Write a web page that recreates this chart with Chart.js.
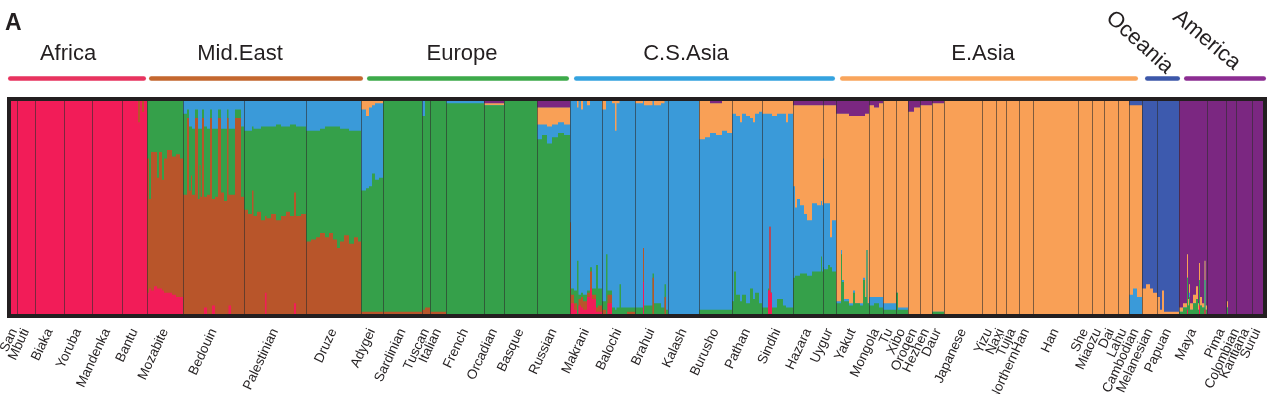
<!DOCTYPE html>
<html><head><meta charset="utf-8">
<script src="https://cdn.jsdelivr.net/npm/chart.js@4.4.1/dist/chart.umd.min.js"></script>
<style>html,body{margin:0;padding:0;background:#fff;overflow:hidden}#wrap{width:1273px;height:394px;position:relative}</style>
</head><body><div id="wrap"><canvas id="c" width="1273" height="394"></canvas></div>
<script>
// ---- populations (sample-position axis, 0 .. sampleEnd) ----
const populations = ['San','Mbuti','Biaka','Yoruba','Mandenka','Bantu','Mozabite','Bedouin','Palestinian','Druze',
 'Adygei','Sardinian','Tuscan','Italian','French','Orcadian','Basque','Russian',
 'Makrani','Balochi','Brahui','Kalash','Burusho','Pathan','Sindhi','Hazara','Uygur',
 'Yakut','Mongola','Tu','Xibo','Oroqen','Hezhen','Daur','Japanese','Yizu','Naxi','Tujia','NorthernHan','Han','She','Miaozu','Dai','Lahu','Cambodian',
 'Melanesian','Papuan','Maya','Pima','Colombian','Karitiana','Surui'];
const popBounds = [0,6,24,53,81,111,136,172,233,295,350,372,411,419,435,473,493,526,559,591,624,657,688,721,751,782,812,825,
 858,872,885,897,909,921,933,971,985,995,1008,1022,1067,1081,1093,1107,1118,1131,1146,1168,1196,1215,1225,1241,1252];
const labelNudge = {Pima: 5, Colombian: 5, Karitiana: 2};

// ---- regions ----
const regionNames = ['Africa','Mid.East','Europe','C.S.Asia','E.Asia','Oceania','America'];
const regionLabelPos = [57,229,451,675,972,1098,1164.6];
const regionLabelAngle = [0,0,0,0,0,42,40];
const regionLineFrom = [-3,138,356,563,829,1134,1173];
const regionLineTo = [135,352,558,824,1127,1169,1255];
const regionColors = ['#E8335F','#C4672F','#3DAA4A','#35A3DF','#F9A55C','#3C57A9','#8C2D92'];

// ---- ancestry components ----
const componentNames = ['Africa','Mid.East','Europe','C.S.Asia','E.Asia','Oceania','America'];
const componentColors = ['#F21C58','#B8552A','#35A04A','#3A9AD9','#F9A056','#3D5AAE','#7B2781'];

const sampleEnd = 1252;
const segStart = [
 0,127,129,131,133,
 136,138,140,143,146,148,151,153,156,161,165,169,
 172,176,178,180,181,184,187,188.5,189.5,191,193,196,199,201,204,207,210,213,216,217.5,220,224,230,
 233,237,241,242.5,246,250,254,255.5,260,265,270,275,279,283,285,290,
 295,300,305,309,314,318,322,326,329,333,338,343,347,
 350,355,358,361,364,368,372,411,414,419,435,473,493,526,531,536,541,547,553,
 559,560,563,566,567.5,570,572,576,579,581,585,587,
 591,595,596.5,601,604,605.5,608.5,610,616,
 624,632,633,641.5,643,650,653.5,655,657,
 688,694,699,705,711,716,
 721,723,725,729,731,735,739,742,744,748,
 751,757,758.5,759.5,761,766,772,775,777,
 782,784,786,789,793,796,801,806,810,811,
 812,813,817,819,821,
 825,830,831,833,838,842,844,849,852,854,855.5,856.5,
 858,863,868,872,885,887,897,903,909,921,933,
 1118,1122,1126,
 1131,1135,1139,1142,1146,1149,1151,1153,
 1168,1172,1176,1177,1178,1179,1182,1185,1187,1188,1189,1191,1193.5,1194.5,
 1196,1216,1217
];
const africa = [
 1,.9,1,.95,1,
 .10,.12,.11,.13,.12,.12,.11,.10,.10,.09,.08,.08,
 0,0,0,0,0,0,0,0,0,0,.03,0,0,.04,0,0,0,0,0,.04,0,0,0,
 0,0,0,0,0,0,.10,0,0,0,0,0,0,.05,0,0,
 0,0,0,0,0,0,0,0,0,0,0,0,0,
 0,0,0,0,0,0,0,0,0,0,0,0,0,0,0,0,0,0,0,
 .03,.05,.02,0,.04,.03,.02,.08,.12,.07,.01,.01,
 0,0,.05,0,0,0,0,0,0,
 0,.15,0,0,0,0,0,0,0,
 0,0,0,0,0,0,
 0,0,0,0,0,0,0,0,0,0,
 0,.11,.41,.10,0,0,0,0,0,
 0,0,0,0,0,0,0,0,0,0,
 0,0,0,0,0,
 0,0,0,0,0,0,0,0,0,0,0,0,
 0,0,0,0,0,0,0,0,0,0,0,
 0,0,0,
 0,0,0,0,0,0,0,0,
 0,0,.02,0,0,0,0,0,0,.04,0,0,.02,0,
 0,0,0
];
const midEast = [
 0,.1,0,.05,0,
 .63,.42,.65,.63,.52,.64,.52,.63,.67,.65,.67,.65,
 .56,.92,.58,.65,.56,.92,.54,.70,.55,.92,.52,.56,.92,.50,.55,.92,.57,.53,.92,.52,.56,.92,.55,
 .49,.47,.58,.46,.48,.44,.36,.45,.47,.44,.46,.48,.46,.52,.46,.47,
 .34,.35,.36,.38,.36,.38,.35,.31,.34,.37,.33,.36,.34,
 .01,.01,.01,.01,.01,.01,.01,.02,.03,.01,0,0,0,0,0,0,0,0,0,
 .40,.04,.03,0,.03,.05,.04,.02,.08,.02,.02,.03,
 .02,0,.04,0,0,0,0,0,.01,
 0,.16,0,.17,0,0,.08,0,0,
 0,0,0,0,0,0,
 0,0,0,0,0,0,0,0,0,0,
 0,0,0,0,0,0,0,0,0,
 0,0,0,0,0,0,0,0,0,0,
 0,0,0,0,0,
 0,0,0,0,0,0,0,0,0,0,0,0,
 0,0,0,0,0,0,0,0,0,0,0,
 0,0,0,
 0,0,0,0,0,0,0,0,
 0,0,0,0,0,0,0,0,0,0,0,0,0,0,
 0,0,0
];
const europe = [
 0,0,0,0,0,
 .27,.46,.24,.24,.36,.24,.37,.27,.23,.26,.25,.27,
 .38,.04,.30,.23,.31,.04,.33,.17,.32,.04,.33,.31,.04,.33,.32,.04,.30,.34,.04,.31,.31,.04,.33,
 .37,.39,.30,.41,.39,.44,.42,.43,.41,.45,.42,.40,.43,.32,.42,.41,
 .52,.51,.50,.49,.52,.50,.53,.57,.53,.50,.53,.50,.52,
 .57,.58,.59,.65,.62,.63,.99,.91,.97,.99,.99,.98,1,.82,.84,.80,.83,.85,.84,
 0,.03,.06,.25,.02,.02,.03,.01,.02,.03,.20,.08,
 .04,.28,.02,.03,.02,.03,.14,.03,.02,
 .03,0,.04,.02,.05,.03,.06,.02,0,
 .02,.02,.02,.02,.02,.02,
 .06,.20,.09,.06,.09,.05,.12,.07,.10,.05,
 .03,.01,0,0,.03,.07,.04,.03,.03,
 .17,.18,.18,.19,.19,.18,.20,.20,.27,.20,
 .22,.21,.23,.22,.20,
 .05,.28,.15,.06,.04,.10,.05,.04,.16,.08,.30,.05,
 .04,.05,.03,.02,.10,.02,0,0,0,.01,0,
 0,0,0,
 0,0,0,0,0,0,0,0,
 .01,.03,.15,.04,.08,.02,.05,.07,.02,.12,.04,.03,.14,.02,
 0,.03,0
];
const csAsia = [
 0,0,0,0,0,
 0,0,0,0,0,0,0,0,0,0,0,0,
 .06,.04,.12,.12,.13,.04,.13,.13,.13,.04,.12,.13,.04,.13,.13,.04,.13,.13,.04,.13,.13,.04,.12,
 .14,.14,.12,.13,.13,.12,.12,.12,.12,.11,.12,.12,.11,.11,.12,.12,
 .14,.14,.14,.13,.12,.12,.12,.12,.13,.13,.14,.14,.14,
 .38,.34,.37,.32,.36,.35,0,.07,0,0,.01,0,0,.07,.05,.08,.06,.05,.05,
 .57,.88,.89,.72,.91,.86,.91,.87,.78,.88,.77,.88,
 .90,.72,.89,.96,.84,.96,.86,.97,.97,
 .96,.69,.94,.81,.93,.96,.86,.98,1,
 .80,.81,.83,.82,.84,.83,
 .88,.74,.84,.84,.85,.88,.80,.83,.84,.90,
 .91,.82,.53,.84,.90,.87,.90,.87,.91,
 .43,.32,.36,.32,.28,.26,.32,.31,.26,.31,
 .51,.31,.29,.14,.24,
 .01,.02,.01,.01,.01,.01,0,.01,.01,0,0,0,
 .04,.03,.05,.03,0,.01,0,0,0,0,0,
 .09,.12,.08,
 0,0,0,0,0,0,0,0,
 0,0,0,0,.02,0,0,0,0,0,0,0,0,0,
 0,0,0
];
const eAsia = [
 0,0,0,0,0,
 0,0,0,0,0,0,0,0,0,0,0,0,
 0,0,0,0,0,0,0,0,0,0,0,0,0,0,0,0,0,0,0,0,0,0,0,
 0,0,0,0,0,0,0,0,0,0,0,0,0,0,0,0,
 0,0,0,0,0,0,0,0,0,0,0,0,0,
 .04,.07,.03,.02,.01,.01,0,0,0,0,0,.01,0,.08,.08,.09,.08,.07,.08,
 0,0,0,.03,0,.04,0,.02,0,0,0,0,
 .04,0,0,.01,.14,.01,0,0,0,
 .01,0,.02,0,.02,.01,0,0,0,
 .18,.17,.14,.15,.14,.15,
 .06,.06,.07,.10,.06,.07,.08,.10,.06,.05,
 .06,.06,.06,.06,.07,.06,.06,.10,.06,
 .38,.48,.44,.47,.51,.54,.46,.47,.45,.47,
 .25,.46,.46,.62,.54,
 .88,.64,.78,.87,.88,.82,.88,.88,.76,.86,.64,.89,
 .90,.89,.91,.95,.90,.97,.95,.97,.98,.98,1,
 .89,.86,.90,
 .12,.14,.12,.10,.08,.02,.11,.01,
 .02,.02,.11,.03,.04,.03,.04,.06,.03,.08,.04,.02,.09,.02,
 0,.03,0
];
const oceania = [
 0,0,0,0,0,
 0,0,0,0,0,0,0,0,0,0,0,0,
 0,0,0,0,0,0,0,0,0,0,0,0,0,0,0,0,0,0,0,0,0,0,0,
 0,0,0,0,0,0,0,0,0,0,0,0,0,0,0,0,
 0,0,0,0,0,0,0,0,0,0,0,0,0,
 0,0,0,0,0,0,0,0,0,0,0,0,0,0,0,0,0,0,0,
 0,0,0,0,0,0,0,0,0,0,0,0,
 0,0,0,0,0,0,0,0,0,
 0,0,0,0,0,0,0,0,0,
 0,0,0,0,0,0,
 0,0,0,0,0,0,0,0,0,0,
 0,0,0,0,0,0,0,0,0,
 0,0,0,0,0,0,0,0,0,0,
 0,0,0,0,0,
 0,0,0,0,0,0,0,0,0,0,0,0,
 0,0,0,0,0,0,0,0,0,0,0,
 .02,.02,.02,
 .88,.86,.88,.90,.92,.98,.89,.99,
 0,0,0,0,0,0,0,0,0,0,0,0,0,0,
 0,0,0
];
const america = [
 0,0,0,0,0,
 0,0,0,0,0,0,0,0,0,0,0,0,
 0,0,0,0,0,0,0,0,0,0,0,0,0,0,0,0,0,0,0,0,0,0,0,
 0,0,0,0,0,0,0,0,0,0,0,0,0,0,0,0,
 0,0,0,0,0,0,0,0,0,0,0,0,0,
 0,0,0,0,0,0,0,0,0,0,0,.01,0,.03,.03,.03,.03,.03,.03,
 0,0,0,0,0,0,0,0,0,0,0,0,
 0,0,0,0,0,0,0,0,0,
 0,0,0,0,0,0,0,0,0,
 0,0,.01,.01,0,0,
 0,0,0,0,0,0,0,0,0,0,
 0,0,0,0,0,0,0,0,0,
 .02,.02,.02,.02,.02,.02,.02,.02,.02,.02,
 .02,.02,.02,.02,.02,
 .06,.06,.06,.06,.07,.07,.07,.07,.07,.06,.06,.06,
 .02,.03,.01,0,0,0,.05,.03,.02,.01,0,
 0,0,0,
 0,0,0,0,0,0,0,0,
 .97,.95,.72,.93,.86,.95,.91,.87,.95,.76,.92,.95,.75,.96,
 1,.94,1
];

// ---- build chart ----
const series = [africa, midEast, europe, csAsia, eAsia, oceania, america];
const popCenters = populations.map((p, i) => (popBounds[i] + popBounds[i + 1]) / 2 + (labelNudge[p] || 0));
const FONT = '"Liberation Sans", Arial, Helvetica, sans-serif';
const INK = '#231f20';

// cumulative tops: each component is filled from 0 up to its cumulative share;
// dataset 0 (lowest component) is drawn last, on top of the others.
const running = segStart.map(() => 0);
const datasets = componentNames.map((name, k) => {
  const vals = series[k];
  const pts = segStart.map((s, i) => { running[i] += vals[i]; return {x: s, y: running[i]}; });
  pts.push({x: sampleEnd, y: pts[pts.length - 1].y});
  return {label: name, data: pts, backgroundColor: componentColors[k], borderColor: componentColors[k],
    borderWidth: 0, pointRadius: 0, pointHoverRadius: 0, stepped: 'before', tension: 0, fill: 'origin'};
});

const decor = {
  id: 'decor',
  beforeDraw(chart) {
    const c = chart.ctx; c.save(); c.fillStyle = '#fff'; c.fillRect(0, 0, chart.width, chart.height); c.restore();
  },
  afterDatasetsDraw(chart) {
    const {ctx, chartArea: a} = chart; const x = chart.scales.x;
    ctx.save();
    ctx.strokeStyle = 'rgba(45,45,45,0.6)'; ctx.lineWidth = 1;
    for (let i = 1; i < popBounds.length - 1; i++) {
      const px = Math.round(x.getPixelForValue(popBounds[i])) + 0.5;
      ctx.beginPath(); ctx.moveTo(px, a.top); ctx.lineTo(px, a.bottom); ctx.stroke();
    }
    ctx.strokeStyle = INK; ctx.lineWidth = 4;
    ctx.strokeRect(a.left - 2, a.top - 2, a.right - a.left + 4, a.bottom - a.top + 4);
    ctx.lineCap = 'round'; ctx.lineWidth = 4.5;
    regionNames.forEach((n, i) => {
      const x0 = x.getPixelForValue(regionLineFrom[i]) + 2.25, x1 = x.getPixelForValue(regionLineTo[i]) - 2.25;
      ctx.strokeStyle = regionColors[i];
      ctx.beginPath(); ctx.moveTo(x0, 78.5); ctx.lineTo(x1, 78.5); ctx.stroke();
    });
    ctx.fillStyle = INK;
    ctx.font = '22px ' + FONT;
    regionNames.forEach((n, i) => {
      const px = x.getPixelForValue(regionLabelPos[i]);
      if (regionLabelAngle[i]) {
        ctx.save(); ctx.translate(px, i === 5 ? 15 : 14); ctx.rotate(regionLabelAngle[i] * Math.PI / 180);
        ctx.textAlign = 'left'; ctx.textBaseline = 'middle'; ctx.fillText(n, 0, 0); ctx.restore();
      } else {
        ctx.textAlign = 'center'; ctx.textBaseline = 'alphabetic'; ctx.fillText(n, px, 59.5);
      }
    });
    ctx.font = 'bold 23px ' + FONT; ctx.textAlign = 'left'; ctx.textBaseline = 'alphabetic';
    ctx.fillText('A', 5, 30);
    ctx.restore();
  }
};

new Chart(document.getElementById('c'), {
  type: 'line',
  data: {datasets},
  options: {
    responsive: false, animation: false, devicePixelRatio: 1,
    layout: {padding: {left: 11, right: 10, top: 101, bottom: 0}},
    plugins: {legend: {display: false}, tooltip: {enabled: false}, filler: {propagate: false}},
    events: [],
    scales: {
      x: {type: 'linear', min: 0, max: sampleEnd,
        grid: {display: false, drawTicks: false}, border: {display: false},
        afterBuildTicks: ax => { ax.ticks = popCenters.map(v => ({value: v})); },
        afterFit: ax => { ax.height = 80; ax.paddingLeft = 0; ax.paddingRight = 0; },
        ticks: {autoSkip: false, maxRotation: 65, minRotation: 65, padding: 12, labelOffset: 0,
          color: INK, font: {size: 13.5, family: FONT}, callback: (v, i) => populations[i]}
      },
      y: {min: 0, max: 1, display: false}
    }
  },
  plugins: [decor]
});
</script></body></html>
